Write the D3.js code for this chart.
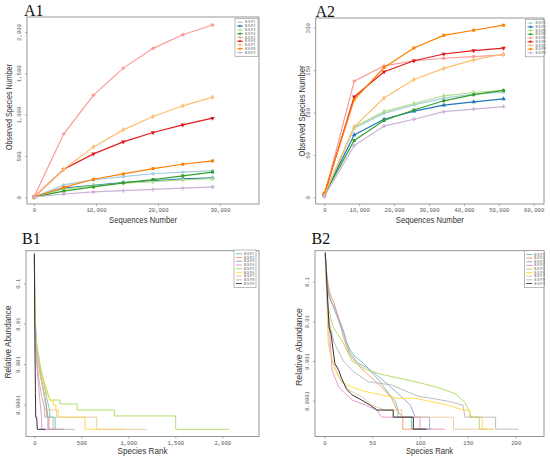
<!DOCTYPE html>
<html>
<head>
<meta charset="utf-8">
<script src="https://cdn.jsdelivr.net/npm/d3@7"></script>
<style>
  body { margin: 0; background: #fff; }
  svg { display: block; }
</style>
</head>
<body>
<div id="canvas"></div>
<script>

var samples = ["B.S.P.1", "B.S.P.2", "B.S.P.3", "B.S.P.4", "B.S.P.5", "B.S.P.6", "B.S.P.7", "B.S.P.8", "B.S.P.9"];

// A1 / A2 : rarefaction curves, one row per sample
var seqA1 = [0, 4800, 9600, 14400, 19200, 24000, 28800];
var obsA1 = [
  [3, 150, 210, 250, 285, 305, 322],
  [3, 110, 145, 178, 200, 222, 235],
  [3, 100, 140, 170, 190, 210, 225],
  [3, 75, 125, 175, 215, 260, 305],
  [3, 768, 1236, 1563, 1802, 1967, 2085],
  [3, 340, 525, 671, 784, 877, 957],
  [3, 340, 610, 816, 978, 1107, 1212],
  [3, 121, 218, 283, 347, 400, 440],
  [3, 40, 65, 80, 95, 110, 125]
];

var seqA2 = [0, 8560, 17120, 25680, 34240, 42800, 51360];
var obsA2 = [
  [3, 81.5, 99, 109, 117, 121.6, 124],
  [3, 73.6, 92, 101.6, 108.7, 112.6, 116],
  [3, 83, 101, 110.6, 119.7, 123.6, 126],
  [3, 67, 90.5, 103, 113.8, 121, 126],
  [1, 137, 155, 161, 164, 166, 168],
  [3, 118.5, 148, 161, 169, 173, 176],
  [3, 83, 117, 139, 152, 162, 169],
  [5, 115, 153, 176, 191, 197, 203],
  [1, 61, 84, 92, 101, 104, 107]
];

// B1 / B2 : rank-abundance curves, [rank, relative abundance]
var rankB1 = [
  [[1, 0.5], [5, 0.03], [20, 4e-3], [60, 1e-3], [100, 3.5e-4], [130, 1.5e-4], [150, 9.7e-5], [165, 7.3e-5], [165, 4.86e-5], [222, 4.86e-5], [222, 2.43e-5], [322, 2.43e-5]],
  [[1, 0.5], [5, 0.03], [20, 3e-3], [50, 8e-4], [90, 2.5e-4], [115, 1.21e-4], [130, 9.7e-5], [130, 4.86e-5], [156, 4.86e-5], [156, 2.43e-5], [235, 2.43e-5]],
  [[1, 0.5], [5, 0.03], [20, 3e-3], [55, 8e-4], [95, 2.5e-4], [120, 1.21e-4], [135, 7.3e-5], [145, 4.86e-5], [145, 2.43e-5], [225, 2.43e-5]],
  [[1, 0.5], [5, 0.02], [15, 2e-3], [40, 4e-4], [60, 1.21e-4], [70, 7.3e-5], [78, 4.86e-5], [78, 2.43e-5], [305, 2.43e-5]],
  [[1, 0.45], [3, 0.05], [8, 0.01], [25, 2.2e-3], [60, 8e-4], [100, 4e-4], [167, 1.29e-4], [273, 1.29e-4], [273, 1.03e-4], [457, 1.03e-4], [457, 7.3e-5], [851, 7.3e-5], [851, 5.2e-5], [1504, 5.2e-5], [1504, 2.43e-5], [2074, 2.43e-5]],
  [[1, 0.4], [5, 0.03], [15, 5e-3], [40, 1.5e-3], [80, 5e-4], [132, 1.9e-4], [175, 1.21e-4], [202, 1.21e-4], [202, 9.7e-5], [230, 9.7e-5], [230, 7.3e-5], [255, 7.3e-5], [255, 4.86e-5], [540, 4.86e-5], [540, 2.43e-5], [957, 2.43e-5]],
  [[1, 0.45], [5, 0.02], [20, 2.5e-3], [60, 6e-4], [100, 2.2e-4], [114, 1.21e-4], [114, 7.3e-5], [238, 7.3e-5], [238, 4.86e-5], [664, 4.86e-5], [664, 2.43e-5], [1196, 2.43e-5]],
  [[1, 0.5], [5, 0.02], [20, 2e-3], [50, 4e-4], [80, 1.5e-4], [100, 9.7e-5], [110, 7.3e-5], [110, 4.86e-5], [200, 4.86e-5], [200, 2.43e-5], [433, 2.43e-5]],
  [[1, 0.55], [3, 0.03], [8, 1.5e-3], [12, 2e-4], [15, 4.86e-5], [25, 4.86e-5], [32, 2.43e-5], [120, 2.43e-5]]
];

var rankB2 = [
  [[1, 0.5], [2, 0.2], [4, 0.056], [8, 0.029], [11, 0.022], [15, 0.012], [20, 6e-3], [23, 3.1e-3], [27, 1.9e-3], [32, 1.3e-3], [41, 8.7e-4], [50, 5e-4], [57, 3.3e-4], [67, 1.55e-4], [74, 1.0e-4], [77, 5.8e-5], [77, 3.85e-5], [91, 3.85e-5], [91, 1.92e-5], [110, 1.92e-5]],
  [[1, 0.5], [3, 0.12], [6, 0.05], [10, 0.03], [15, 0.012], [20, 4e-3], [26, 1.5e-3], [35, 8e-4], [46, 4.5e-4], [60, 2.2e-4], [70, 1.2e-4], [76, 5.8e-5], [82, 3.85e-5], [82, 1.92e-5], [103, 1.92e-5]],
  [[1, 0.5], [3, 0.1], [5, 0.04], [9, 0.025], [14, 0.012], [20, 5e-3], [27, 1.6e-3], [35, 9e-4], [46, 6.5e-4], [57, 4e-4], [67, 2.5e-4], [80, 1.3e-4], [90, 7.7e-5], [95, 3.85e-5], [110, 3.85e-5], [110, 1.92e-5], [112, 1.92e-5]],
  [[1, 0.5], [2, 0.15], [3, 0.03], [5, 0.01], [8, 6e-4], [15, 2.2e-4], [22, 1.5e-4], [29, 1.05e-4], [43, 7.7e-5], [55, 5.8e-5], [60, 3.85e-5], [100, 3.85e-5], [100, 1.92e-5], [126, 1.92e-5]],
  [[1, 0.5], [2, 0.1], [4, 0.023], [9, 7.4e-3], [20, 2.8e-3], [29, 1.0e-3], [44, 6e-4], [60, 4.6e-4], [88, 3.3e-4], [116, 2.25e-4], [137, 1.5e-4], [147, 9e-5], [152, 5e-5], [153, 3.85e-5], [162, 3.85e-5], [162, 1.92e-5], [168, 1.92e-5]],
  [[1, 0.5], [3, 0.04], [5, 3e-3], [6, 1.7e-3], [11, 6e-4], [18, 3e-4], [29, 2.2e-4], [43, 1.7e-4], [60, 1.4e-4], [77, 1.15e-4], [95, 1.15e-4], [110, 9.6e-5], [130, 7.7e-5], [145, 5.8e-5], [152, 5.8e-5], [152, 3.85e-5], [165, 3.85e-5], [165, 1.92e-5], [177, 1.92e-5]],
  [[1, 0.5], [2, 0.1], [3, 0.02], [4, 3e-3], [8, 1.07e-3], [16, 3.8e-4], [25, 1.9e-4], [39, 1.26e-4], [50, 7.7e-5], [63, 5.8e-5], [81, 5.8e-5], [81, 3.85e-5], [135, 3.85e-5], [135, 1.92e-5], [177, 1.92e-5]],
  [[1, 0.5], [3, 0.05], [5, 0.01], [10, 3e-3], [20, 1e-3], [30, 5.5e-4], [46, 3e-4], [70, 2.5e-4], [98, 1.3e-4], [112, 1.15e-4], [130, 9.6e-5], [145, 7.7e-5], [147, 3.85e-5], [179, 3.85e-5], [179, 1.92e-5], [203, 1.92e-5]],
  [[1, 0.55], [2, 0.2], [3, 0.06], [5, 0.007], [7, 0.005], [11, 8.7e-4], [15, 5.9e-4], [18, 3.7e-4], [23, 2.0e-4], [29, 1.4e-4], [39, 1.04e-4], [48, 7.7e-5], [55, 5.8e-5], [72, 5.8e-5], [72, 3.85e-5], [93, 3.85e-5], [93, 1.92e-5], [107, 1.92e-5]]
];

// ticks
var a1XTicks = [0, 10000, 20000, 30000];
var a1XLabels = ["0", "10,000", "20,000", "30,000"];
var a1YTicks = [0, 500, 1000, 1500, 2000];
var a1YLabels = ["0", "500", "1,000", "1,500", "2,000"];
var a2XTicks = [0, 10000, 20000, 30000, 40000, 50000, 60000];
var a2XLabels = ["0", "10,000", "20,000", "30,000", "40,000", "50,000", "60,000"];
var a2YTicks = [0, 50, 100, 150, 200];
var a2YLabels = ["0", "50", "100", "150", "200"];
var b1XTicks = [0, 500, 1000, 1500, 2000];
var b1XLabels = ["0", "500", "1,000", "1,500", "2,000"];
var b2XTicks = [0, 50, 100, 150, 200];
var b2XLabels = ["0", "50", "100", "150", "200"];
var bYTicks = [0.1, 0.01, 0.001, 0.0001];
var bYLabels = ["0.1", "0.01", "0.001", "0.0001"];

var pairedColors = ["#a6cee3", "#1f78b4", "#b2df8a", "#33a02c", "#fb9a99", "#e31a1c", "#fdbf6f", "#ff7f00", "#cab2d6"];
var set2Colors = ["#66c2a5", "#fc8d62", "#8da0cb", "#e78ac3", "#a6d854", "#ffd92f", "#e5c494", "#b3b3b3", "#333333"];
var markers = [d3.symbolCircle, d3.symbolTriangle, d3.symbolDiamond, d3.symbolSquare, d3.symbolCircle,
               d3.symbolTriangle, d3.symbolDiamond, d3.symbolSquare, d3.symbolCross];

var frameColor = "#8c8c8c";
var tickFont = "Liberation Mono, DejaVu Sans Mono, monospace";
var labelFont = "Liberation Sans, Arial, sans-serif";

var svg = d3.select("#canvas")
  .append("svg")
  .attr("width", 550)
  .attr("height", 459);

function frame(p) {
  svg.append("clipPath").attr("id", "clip" + p.name)
    .append("rect")
    .attr("x", p.x0).attr("y", p.y0)
    .attr("width", p.x1 - p.x0).attr("height", p.y1 - p.y0);

  svg.append("rect")
    .attr("x", p.x0).attr("y", p.y0)
    .attr("width", p.x1 - p.x0).attr("height", p.y1 - p.y0)
    .attr("fill", "none")
    .attr("stroke", frameColor)
    .attr("stroke-width", 0.9);

  svg.append("text")
    .attr("x", p.tag[0]).attr("y", p.tag[1])
    .attr("font-family", "Liberation Serif, Times New Roman, serif")
    .attr("font-size", 16)
    .attr("fill", "#111")
    .text(p.name);
}

function axes(p, x, y, xt, xl, yt, yl) {
  var bx = svg.append("g")
    .attr("transform", "translate(0," + p.y1 + ")")
    .call(d3.axisBottom(x)
      .tickValues(xt)
      .tickFormat(function(d, i) { return xl[i]; })
      .tickSize(2).tickSizeOuter(0).tickPadding(2.2));
  bx.select(".domain").remove();

  var ly = svg.append("g")
    .attr("transform", "translate(" + p.x0 + ",0)")
    .call(d3.axisLeft(y)
      .tickValues(yt)
      .tickFormat(function(d, i) { return yl[i]; })
      .tickSize(2).tickSizeOuter(0));
  ly.select(".domain").remove();
  ly.selectAll("text")
    .attr("transform", "rotate(-90)")
    .attr("x", 0).attr("y", -6).attr("dy", 0)
    .attr("text-anchor", "middle");

  [bx, ly].forEach(function(ax) {
    ax.selectAll("line").attr("stroke", frameColor).attr("stroke-width", 0.7);
    ax.selectAll("text")
      .attr("font-family", tickFont)
      .attr("font-size", 5.6)
      .attr("fill", "#555");
  });

  svg.append("text")
    .attr("x", (p.x0 + p.x1) / 2).attr("y", p.xTitle[0])
    .attr("text-anchor", "middle")
    .attr("font-family", labelFont).attr("font-size", 9).attr("fill", "#333")
    .attr("textLength", p.xTitle[1]).attr("lengthAdjust", "spacingAndGlyphs")
    .text(p.xLabel);

  svg.append("text")
    .attr("transform", "translate(" + p.yTitle[0] + "," + p.yTitle[1] + ") rotate(-90)")
    .attr("text-anchor", "middle")
    .attr("font-family", labelFont).attr("font-size", 9).attr("fill", "#333")
    .attr("textLength", p.yTitle[2]).attr("lengthAdjust", "spacingAndGlyphs")
    .text(p.yLabel);
}

function rarefaction(p, x, y, seq, obs) {
  var line = d3.line()
    .x(function(d, i) { return x(seq[i]); })
    .y(function(d) { return y(d); });

  var g = svg.append("g").attr("clip-path", "url(#clip" + p.name + ")");
  obs.forEach(function(row, k) {
    g.append("path")
      .attr("d", line(row))
      .attr("fill", "none")
      .attr("stroke", pairedColors[k])
      .attr("stroke-width", 1.2);
    g.selectAll(null)
      .data(row)
      .enter()
        .append("path")
        .attr("transform", function(d, i) {
          return "translate(" + x(seq[i]) + "," + y(d) + ")" + (k === 5 ? " rotate(180)" : "");
        })
        .attr("d", d3.symbol().type(markers[k]).size(9))
        .attr("fill", pairedColors[k]);
  });
}

function rankCurves(p, x, y, curves) {
  var line = d3.line()
    .x(function(d) { return x(d[0]); })
    .y(function(d) { return y(d[1]); });

  var g = svg.append("g").attr("clip-path", "url(#clip" + p.name + ")");
  g.selectAll("path")
    .data(curves)
    .enter()
      .append("path")
      .attr("d", line)
      .attr("fill", "none")
      .attr("stroke", function(d, k) { return set2Colors[k]; })
      .attr("stroke-opacity", function(d, k) { return k === 8 ? 1 : 0.85; })
      .attr("stroke-width", 1);
}

function legend(p, withMarkers, colors) {
  var L = p.legend;
  svg.append("rect")
    .attr("x", L.x).attr("y", L.y)
    .attr("width", L.w).attr("height", L.h)
    .attr("fill", "#fff")
    .attr("stroke", frameColor)
    .attr("stroke-width", 0.6);

  var rows = svg.selectAll(null)
    .data(samples)
    .enter()
      .append("g")
      .attr("transform", function(d, i) {
        return "translate(" + (L.x + 2) + "," + (L.y + 3.8 + i * (L.h - 4) / 9) + ")";
      });

  rows.append("line")
    .attr("x1", 0).attr("x2", 6)
    .attr("stroke", function(d, i) { return colors[i]; })
    .attr("stroke-width", 0.9);

  if (withMarkers) {
    rows.append("path")
      .attr("transform", "translate(3,0)")
      .attr("d", function(d, i) { return d3.symbol().type(markers[i]).size(4)(); })
      .attr("fill", function(d, i) { return colors[i]; });
  }

  rows.append("text")
    .attr("x", 8).attr("y", 1.1)
    .attr("font-family", labelFont)
    .attr("font-size", 3.2)
    .attr("fill", "#555")
    .text(function(d) { return d; });
}

// panel layouts
var pA1 = { name: "A1", x0: 27, x1: 259, y0: 17, y1: 204, tag: [24, 15.5],
  xLabel: "Sequences Number", xTitle: [222.5, 68], yLabel: "Observed Species Number", yTitle: [12, 107, 86],
  legend: { x: 235, y: 18.5, w: 23, h: 38 } };
var pA2 = { name: "A2", x0: 315.7, x1: 544, y0: 18, y1: 204, tag: [315.5, 17.3],
  xLabel: "Sequences Number", xTitle: [222.5, 68], yLabel: "Observed Species Number", yTitle: [305, 111, 91],
  legend: { x: 525.5, y: 19.3, w: 18.5, h: 37.5 } };
var pB1 = { name: "B1", x0: 26, x1: 259, y0: 250.7, y1: 436.5, tag: [22, 244],
  xLabel: "Species Rank", xTitle: [453.5, 50], yLabel: "Relative Abundance", yTitle: [10.5, 342, 73],
  legend: { x: 234, y: 250, w: 22, h: 37.5 } };
var pB2 = { name: "B2", x0: 315, x1: 544, y0: 250.7, y1: 436.5, tag: [311.5, 244],
  xLabel: "Species Rank", xTitle: [453.5, 47], yLabel: "Relative Abundance", yTitle: [301.5, 347, 78],
  legend: { x: 524.3, y: 250.7, w: 19.7, h: 36.6 } };

// scales, anchored at tick positions
var xA1 = d3.scaleLinear().domain([0, 30000]).range([34, 220]);
var yA1 = d3.scaleLinear().domain([0, 2000]).range([197.3, 32]);
var xA2 = d3.scaleLinear().domain([0, 60000]).range([324.3, 533.7]);
var yA2 = d3.scaleLinear().domain([0, 200]).range([197.3, 27.7]);
var xB1 = d3.scaleLinear().domain([0, 2000]).range([34.3, 222.3]);
var yB1 = d3.scaleLog().domain([0.1, 0.0001]).range([283.3, 404.5]);
var xB2 = d3.scaleLinear().domain([0, 200]).range([324.3, 515.7]);
var yB2 = d3.scaleLog().domain([0.1, 0.0001]).range([281.7, 400.7]);

frame(pA1);
rarefaction(pA1, xA1, yA1, seqA1, obsA1);
axes(pA1, xA1, yA1, a1XTicks, a1XLabels, a1YTicks, a1YLabels);
legend(pA1, true, pairedColors);

frame(pA2);
rarefaction(pA2, xA2, yA2, seqA2, obsA2);
axes(pA2, xA2, yA2, a2XTicks, a2XLabels, a2YTicks, a2YLabels);
legend(pA2, true, pairedColors);

frame(pB1);
rankCurves(pB1, xB1, yB1, rankB1);
axes(pB1, xB1, yB1, b1XTicks, b1XLabels, bYTicks, bYLabels);
legend(pB1, false, set2Colors);

frame(pB2);
rankCurves(pB2, xB2, yB2, rankB2);
axes(pB2, xB2, yB2, b2XTicks, b2XLabels, bYTicks, bYLabels);
legend(pB2, false, set2Colors);

</script>
</body>
</html>
